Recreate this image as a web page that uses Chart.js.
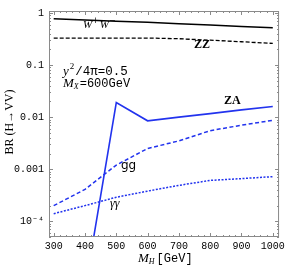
<!DOCTYPE html>
<html><head><meta charset="utf-8">
<script src="https://cdn.jsdelivr.net/npm/chart.js@4"></script>
<style>html,body{margin:0;padding:0;background:#fff}canvas{display:block}</style>
</head><body>
<canvas id="c" width="288" height="268"></canvas>
<script>
const masses = [300, 400, 500, 600, 700, 800, 900, 1000];
const brWW = [0.77, 0.73, 0.69, 0.66, 0.62, 0.59, 0.55, 0.52];
const brZZ = [0.33, 0.33, 0.33, 0.33, 0.32, 0.30, 0.28, 0.26];
const brZA = [null, 5e-6, 0.019, 0.0085, 0.0100, 0.0117, 0.0138, 0.016];
const brGG = [2.0e-4, 4.1e-4, 1.2e-3, 2.5e-3, 3.5e-3, 5.5e-3, 7.0e-3, 8.7e-3];
const brAA = [1.4e-4, 2.0e-4, 2.9e-4, 3.8e-4, 4.9e-4, 6.1e-4, 6.6e-4, 7.2e-4];
const xTicks = [300, 400, 500, 600, 700, 800, 900, 1000];
const xTickLabels = ['300', '400', '500', '600', '700', '800', '900', '1000'];
const yTickValues = [1, 0.1, 0.01, 0.001, 0.0001];
const yTickLabels = ['1', '0.1', '0.01', '0.001', '10\u207B\u2074'];

const BLUE = '#2233ee';
const MONO = "'Liberation Mono', 'DejaVu Sans Mono', monospace";
const SERIF = "'Liberation Serif', 'DejaVu Serif', serif";

function pts(arr) { return masses.map((m, i) => ({ x: m, y: arr[i] })); }

const decor = {
  id: 'decor',
  afterDatasetsDraw(chart) {
    const ctx = chart.ctx, a = chart.chartArea;
    const xs = chart.scales.x, ys = chart.scales.y;
    ctx.save();
    ctx.strokeStyle = '#8a8a8a';
    ctx.lineWidth = 1;
    ctx.setLineDash([]);
    ctx.strokeRect(a.left + 0.5, a.top + 0.5, a.right - a.left - 1, a.bottom - a.top - 1);
    ctx.beginPath();
    for (let v = 300; v <= 1000; v += 20) {
      const px = Math.round(xs.getPixelForValue(v)) + 0.5;
      const len = (v % 100 === 0) ? 4 : 2;
      ctx.moveTo(px, a.bottom); ctx.lineTo(px, a.bottom - len);
      ctx.moveTo(px, a.top); ctx.lineTo(px, a.top + len);
    }
    for (let d = -5; d <= 0; d++) {
      for (let k = 1; k <= 9; k++) {
        const v = k * Math.pow(10, d);
        if (v < ys.min || v > ys.max) continue;
        const py = Math.round(ys.getPixelForValue(v)) + 0.5;
        const len = (k === 1) ? 4 : 2;
        ctx.moveTo(a.left, py); ctx.lineTo(a.left + len, py);
        ctx.moveTo(a.right, py); ctx.lineTo(a.right - len, py);
      }
    }
    ctx.stroke();

    ctx.fillStyle = '#000';
    ctx.textBaseline = 'alphabetic';
    ctx.textAlign = 'left';
    // W+W-
    let x = 83, y = 28;
    ctx.font = 'italic 11px ' + SERIF; ctx.fillText('W', x, y); x += ctx.measureText('W').width;
    ctx.font = '8px ' + "'DejaVu Sans', sans-serif"; ctx.fillText('+', x, y - 5); x += ctx.measureText('+').width + 1;
    ctx.font = 'italic 11px ' + SERIF; ctx.fillText('W', x, y); x += ctx.measureText('W').width;
    ctx.font = '8px ' + "'DejaVu Sans', sans-serif"; ctx.fillText('\u2212', x, y - 5);
    // ZZ
    ctx.font = 'bold 12px ' + SERIF; ctx.fillText('ZZ', 194, 48);
    // ZA
    ctx.fillText('ZA', 224, 104);
    // gg
    ctx.font = '12px ' + "'DejaVu Sans', sans-serif"; ctx.fillText('gg', 121, 169);
    // γγ
    ctx.font = 'italic 12px ' + SERIF; ctx.fillText('\u03B3\u03B3', 110, 207);
    // parameter text
    x = 63; y = 75;
    ctx.font = 'italic 13px ' + SERIF; ctx.fillText('y', x, y); x += ctx.measureText('y').width + 1;
    ctx.font = '9px ' + SERIF; ctx.fillText('2', x, y - 6); x += ctx.measureText('2').width + 1;
    ctx.font = '12.5px ' + MONO; ctx.fillText('/4\u03C0=0.5', x, y);
    x = 63; y = 87;
    ctx.font = 'italic 13px ' + SERIF; ctx.fillText('M', x, y); x += ctx.measureText('M').width;
    ctx.font = 'italic 8px ' + SERIF; ctx.fillText('X', x, y + 2); x += ctx.measureText('X').width + 1;
    ctx.font = '12px ' + MONO; ctx.fillText('=600GeV', x, y);
    // x title
    x = 138; y = 262;
    ctx.font = 'italic 13px ' + SERIF; ctx.fillText('M', x, y); x += ctx.measureText('M').width;
    ctx.font = 'italic 8px ' + SERIF; ctx.fillText('H', x, y + 2); x += ctx.measureText('H').width + 2;
    ctx.font = '12px ' + MONO; ctx.fillText('[GeV]', x, y);
    // y title
    ctx.save();
    ctx.translate(13, 122);
    ctx.rotate(-Math.PI / 2);
    ctx.textAlign = 'center';
    ctx.font = '12px ' + SERIF;
    ctx.fillText('BR (H\u2192VV)', 0, 0);
    ctx.restore();
    ctx.restore();
  }
};

new Chart(document.getElementById('c'), {
  type: 'line',
  data: {
    datasets: [
      { label: 'WW', data: pts(brWW), borderColor: '#000', borderWidth: 1.5, pointRadius: 0, tension: 0 },
      { label: 'ZZ', data: pts(brZZ), borderColor: '#000', borderWidth: 1.3, borderDash: [4, 2], pointRadius: 0, tension: 0 },
      { label: 'ZA', data: pts(brZA), borderColor: BLUE, borderWidth: 1.6, pointRadius: 0, tension: 0, spanGaps: false },
      { label: 'gg', data: pts(brGG), borderColor: BLUE, borderWidth: 1.5, borderDash: [4, 2.5], pointRadius: 0, tension: 0 },
      { label: 'γγ', data: pts(brAA), borderColor: BLUE, borderWidth: 1.5, borderDash: [2, 1.5], pointRadius: 0, tension: 0 }
    ]
  },
  options: {
    responsive: false,
    animation: false,
    devicePixelRatio: 1,
    layout: { padding: { top: 5, right: 8, left: 0, bottom: 0 } },
    plugins: { legend: { display: false }, tooltip: { enabled: false } },
    scales: {
      x: {
        type: 'linear', min: 285, max: 1020,
        afterBuildTicks: s => { s.ticks = xTicks.map(v => ({ value: v })); },
        afterFit: s => { s.height = 31; },
        ticks: { color: '#000', font: { family: MONO, size: 10 }, padding: 3, maxRotation: 0, autoSkip: false,
          callback: (v, i) => xTickLabels[i] },
        grid: { display: false, drawTicks: false },
        border: { display: false }
      },
      y: {
        type: 'logarithmic', min: 5e-5, max: 1.09,
        afterBuildTicks: s => { s.ticks = yTickValues.map(v => ({ value: v })); },
        afterFit: s => { s.width = 49; },
        ticks: { color: '#000', font: { family: MONO, size: 10 }, padding: 5, autoSkip: false,
          callback: (v, i) => yTickLabels[i] },
        grid: { display: false, drawTicks: false },
        border: { display: false }
      }
    }
  },
  plugins: [decor]
});
</script>
</body></html>
